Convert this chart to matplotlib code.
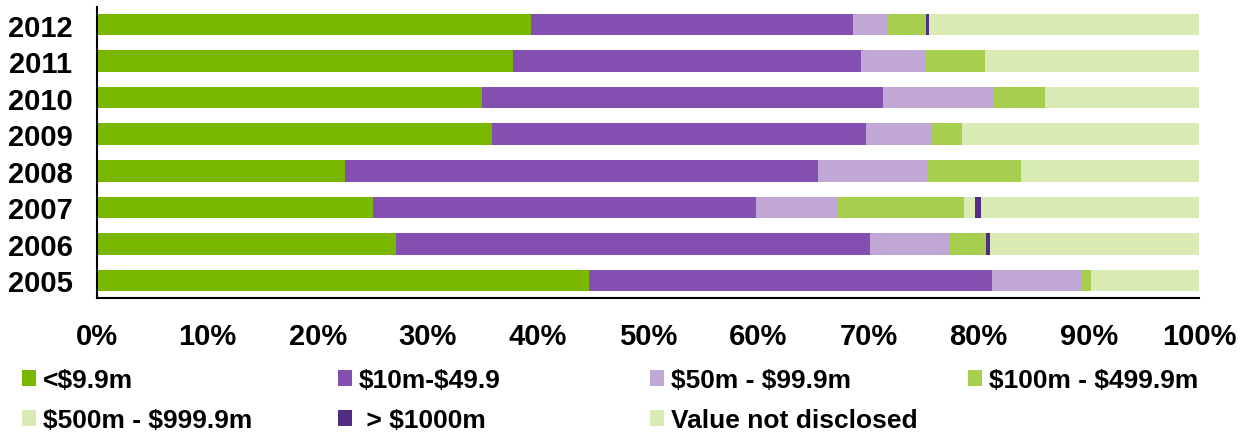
import matplotlib
matplotlib.use("Agg")
import matplotlib.pyplot as plt
import numpy as np

plt.rcParams['font.family'] = ['Liberation Sans', 'DejaVu Sans']
plt.rcParams['font.weight'] = 'bold'

## Data (percent of deals per year)
years = ['2005', '2006', '2007', '2008', '2009', '2010', '2011', '2012']
under_10m = [44.6, 27.1, 25.0, 22.5, 35.8, 34.9, 37.7, 39.4]
m10_49 = [36.6, 43.0, 34.8, 42.9, 34.0, 36.4, 31.6, 29.2]
m50_99 = [8.1, 7.3, 7.4, 10.0, 5.9, 10.0, 5.9, 3.1]
m100_499 = [0.9, 3.3, 11.5, 8.4, 2.8, 4.7, 5.4, 3.5]
m500_999 = [0.0, 0.0, 1.0, 0.3, 0.0, 0.0, 0.0, 0.0]
over_1000 = [0.0, 0.3, 0.5, 0.0, 0.0, 0.0, 0.0, 0.25]
not_disclosed = [9.8, 19.0, 19.8, 15.9, 21.5, 14.0, 19.4, 24.55]

labels = ['<\\$9.9m', '\\$10m-\\$49.9', '\\$50m - \\$99.9m', '\\$100m - \\$499.9m',
          '\\$500m - \\$999.9m', ' > \\$1000m', 'Value not disclosed']
colors = ['#7AB800', '#834FB0', '#C1A7D6', '#A6CE4F',
          '#D9EAB5', '#512D83', '#D9EAB5']

series = [under_10m, m10_49, m50_99, m100_499, m500_999, over_1000, not_disclosed]

fig = plt.figure(figsize=(12.49, 4.35), dpi=100)
ax = fig.add_axes([0.078, 0.3126, 0.882, 0.669])

y = np.arange(len(years))
left = np.zeros(len(years))
bars = []
for vals, col, lab in zip(series, colors, labels):
    b = ax.barh(y, vals, left=left, height=0.59, color=col, label=lab)
    bars.append(b)
    left += np.array(vals)

ax.set_xlim(0, 100)
ax.set_ylim(-0.48, 7.48)
ax.set_yticks(y)
ax.set_yticklabels(years, fontsize=21, fontweight='bold')
ax.set_xticks(np.arange(0, 101, 10))
ax.set_xticklabels([f'{v}%' for v in range(0, 101, 10)], fontsize=21, fontweight='bold')
ax.tick_params(axis='both', length=0)
ax.tick_params(axis='x', pad=17)
ax.tick_params(axis='y', pad=18)

for s in ['top', 'right']:
    ax.spines[s].set_visible(False)
for s in ['left', 'bottom']:
    ax.spines[s].set_color('black')
    ax.spines[s].set_linewidth(1.5)

## Legend entries placed in a 4 column grid, row by row
col_x = [0.0176, 0.2706, 0.5204, 0.775]
row_y = [0.124, 0.032]
for i, (b, lab) in enumerate(zip(bars, labels)):
    r, c = divmod(i, 4)
    fig.legend(handles=[b], labels=[lab], loc='center left',
               bbox_to_anchor=(col_x[c], row_y[r]), frameon=False,
               borderpad=0, borderaxespad=0, handlelength=0.55,
               handleheight=0.55, handletextpad=0.25,
               prop={'size': 19, 'weight': 'bold'})

fig.savefig('out.png', dpi=100)
